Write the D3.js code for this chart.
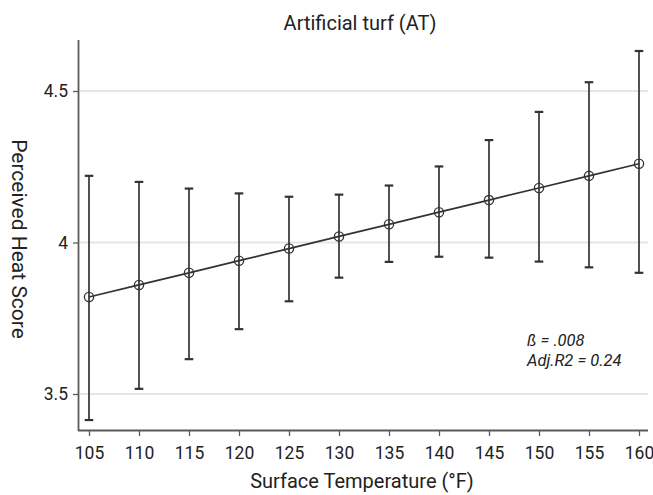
<!DOCTYPE html>
<html><head><meta charset="utf-8">
<script src="https://cdn.jsdelivr.net/npm/d3@7"></script>
<style>body{margin:0;background:#fff}svg{display:block}text{font-family:Roboto,"Liberation Sans",sans-serif;fill:#222}</style>
</head><body><div id="chart"></div>
<script>
const temps = [105,110,115,120,125,130,135,140,145,150,155,160];
const means = [3.82,3.86,3.90,3.94,3.98,4.02,4.06,4.10,4.14,4.18,4.22,4.26];
const upper = [4.22,4.20,4.178,4.162,4.151,4.158,4.188,4.251,4.338,4.431,4.529,4.632];
const lower = [3.414,3.517,3.615,3.714,3.806,3.884,3.936,3.953,3.95,3.937,3.918,3.90];
const yTicks = [3.5,4,4.5];
const title = "Artificial turf (AT)";
const xTitle = "Surface Temperature (°F)";
const yTitle = "Perceived Heat Score";
const annot = ["ß = .008","Adj.R2 = 0.24"];

const W=653,H=495;
const svg=d3.select("#chart").append("svg").attr("width",W).attr("height",H);
const x=d3.scaleLinear().domain([104.0,160.9]).range([79,648]);
const y=d3.scaleLinear().domain([3.5,4.5]).range([394,91]);
const plotBottom=430, plotTop=40;

// grid
svg.append("g").selectAll("line").data(yTicks).join("line")
  .attr("x1",80).attr("x2",648).attr("y1",d=>y(d)).attr("y2",d=>y(d))
  .attr("stroke","#e6e6e6").attr("stroke-width",1.8);

// axes
const xa=svg.append("g").attr("transform",`translate(0,${plotBottom})`)
  .call(d3.axisBottom(x).tickValues(temps).tickSize(6).tickPadding(11).tickSizeOuter(0));
xa.select(".domain").attr("stroke","#5a5a5a").attr("stroke-width",1.8).attr("d",`M78,0.5H648`);
xa.selectAll(".tick line").attr("stroke","#5a5a5a").attr("stroke-width",1.3);
xa.selectAll(".tick text").attr("font-size",17.5).style("font-family","Roboto,sans-serif").attr("fill","#222");

const ya=svg.append("g").attr("transform",`translate(79,0)`)
  .call(d3.axisLeft(y).tickValues(yTicks).tickSize(6).tickPadding(5).tickFormat(d3.format("")));
ya.select(".domain").attr("stroke","#5a5a5a").attr("stroke-width",1.8).attr("d",`M-0.5,${plotTop}V${plotBottom+1}`);
ya.selectAll(".tick line").attr("stroke","#5a5a5a").attr("stroke-width",1.3);
ya.selectAll(".tick text").attr("font-size",17.5).style("font-family","Roboto,sans-serif").attr("fill","#222");

// error bars
const eb=svg.append("g").attr("stroke","#333").attr("stroke-width",1.7);
temps.forEach((t,i)=>{
  eb.append("line").attr("x1",x(t)).attr("x2",x(t)).attr("y1",y(upper[i])).attr("y2",y(lower[i]));
  eb.append("line").attr("x1",x(t)-4.3).attr("x2",x(t)+4.3).attr("y1",y(upper[i])).attr("y2",y(upper[i])).attr("stroke-width",2.2);
  eb.append("line").attr("x1",x(t)-4.3).attr("x2",x(t)+4.3).attr("y1",y(lower[i])).attr("y2",y(lower[i])).attr("stroke-width",2.2);
});

// line
svg.append("path").datum(temps.map((t,i)=>[t,means[i]]))
  .attr("d",d3.line().x(d=>x(d[0])).y(d=>y(d[1])))
  .attr("fill","none").attr("stroke","#333").attr("stroke-width",1.7);

// points
svg.append("g").selectAll("circle").data(temps).join("circle")
  .attr("cx",d=>x(d)).attr("cy",(d,i)=>y(means[i])).attr("r",4.6)
  .attr("fill","none").attr("stroke","#333").attr("stroke-width",1.3);

// titles
svg.append("text").attr("x",360).attr("y",30).attr("text-anchor","middle").attr("font-size",20).text(title);
svg.append("text").attr("x",362).attr("y",488).attr("text-anchor","middle").attr("font-size",20).text(xTitle);
svg.append("text").attr("transform","translate(12,239) rotate(90)").attr("text-anchor","middle").attr("font-size",21).text(yTitle);

annot.forEach((s,i)=>svg.append("text").attr("x",527).attr("y",346+i*20)
  .attr("font-size",16.5).attr("font-style","italic").text(s));
</script></body></html>
